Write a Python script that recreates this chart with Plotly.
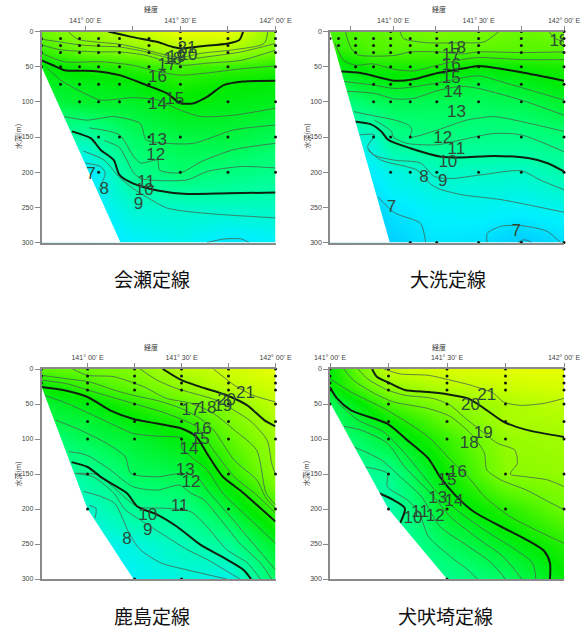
import plotly.graph_objects as go

DEPTHS = [0, 25, 50, 75, 100, 150, 200, 250, 300]
TICK_LON = [140.75, 141.0, 141.25, 141.5, 141.75, 142.0]
TICK_TEXT = ["", "141° 00' E", "", "141° 30' E", "", "142° 00' E"]
DEPTH_TICKS = [0, 50, 100, 150, 200, 250, 300]
PANEL_TITLES = ["会瀬定線", "大洗定線", "鹿島定線", "犬吠埼定線"]

# ---------- panel 1: 会瀬定線 ----------
P1_LON = [140.77, 141.0, 141.25, 141.5, 141.75, 142.0]
P1_TEMP = [
    [18.0, 19.5, 21.0, 22.6, 22.6, 19.0],
    [16.5, 18.2, 19.0, 20.2, 20.3, 18.3],
    [14.7, 15.7, 16.2, 16.8, 16.5, 16.0],
    [14.0, 14.3, 14.7, 15.7, 15.0, 14.8],
    [13.0, 13.9, 13.9, 14.9, 14.5, 14.3],
    [10.0, 10.0, 12.3, 13.1, 13.3, 12.6],
    [6.5, 7.0, 10.9, 12.0, 11.5, 11.0],
    [6.0, 7.0, 8.9, 9.1, 9.2, 9.3],
    [6.0, 6.5, 7.5, 8.0, 7.0, 7.5],
]
P1_SEABED = [(140.77, 50), (141.185, 300), (140.77, 300)]
P1_STATION_LON = [140.77, 140.87, 140.97, 141.07, 141.18, 141.335, 141.50, 141.75, 142.0]
P1_STATION_DEPTHS = [
    [10, 20, 30, 50], [10, 20, 30, 50, 75], [10, 20, 30, 50, 75, 100],
    [10, 20, 30, 50, 75, 100, 150, 200], [10, 20, 30, 50, 75, 100, 150],
    [10, 20, 30, 50, 75, 100, 150], [0, 10, 20, 30, 50, 75, 100, 150, 200],
    [0, 10, 20, 30, 50, 100, 150, 200], [0, 10, 20, 30, 50, 100, 150, 200],
]
P1_T20 = [(141.12, 0), (141.25, 8), (141.38, 15), (141.46, 22), (141.51, 24), (141.61, 21), (141.75, 17), (141.81, 12), (141.83, 0)]
P1_T19 = [(140.91, 0), (140.96, 11), (141.06, 15), (141.18, 18), (141.32, 26), (141.43, 34), (141.50, 37), (141.61, 31), (141.78, 26), (141.94, 17), (141.96, 0)]
P1_T18 = [(140.77, 11), (140.87, 15), (140.97, 19), (141.08, 21), (141.18, 22), (141.32, 29), (141.43, 37), (141.51, 40), (141.64, 36), (141.82, 29), (142, 17)]
P1_T17 = [(140.77, 19), (140.87, 26), (141.08, 29), (141.18, 29), (141.32, 34), (141.43, 43), (141.51, 48), (141.64, 45), (141.82, 41), (142, 26.5)]
P1_T16 = [(140.77, 31), (140.89, 43), (141.08, 43), (141.25, 48), (141.38, 57), (141.50, 62), (141.64, 59), (141.82, 53), (142, 49)]
P1_T15 = [(140.77, 41), (140.83, 48), (140.89, 55), (141.04, 56), (141.18, 62), (141.32, 76), (141.43, 88), (141.50, 102), (141.57, 102), (141.64, 93), (141.73, 76), (141.83, 71), (142, 70)]
P1_T14 = [(140.80, 52), (140.87, 69), (140.96, 83), (141.08, 97.5), (141.25, 94), (141.38, 97.5), (141.50, 112), (141.61, 121), (141.78, 119), (142, 109)]
P1_T13 = [(140.89, 121), (141.01, 126), (141.15, 121), (141.29, 131), (141.32, 154), (141.43, 159), (141.57, 159), (141.78, 140), (142, 133)]
P1_T12 = [(141.02, 137), (141.18, 147), (141.25, 176), (141.29, 187), (141.38, 183), (141.39, 197), (141.50, 201), (141.61, 185), (141.78, 168), (142, 159)]
P1_T11 = [(141.10, 155), (141.18, 165), (141.25, 199), (141.29, 209), (141.535, 211), (141.64, 199), (141.82, 192), (142, 194)]
P1_T10 = [(140.93, 142), (141.03, 152), (141.08, 168), (141.15, 183), (141.18, 204), (141.25, 216), (141.38, 226), (141.535, 231), (141.75, 230), (142, 229)]
P1_T9 = [(140.99, 170), (141.10, 183), (141.175, 206), (141.25, 223), (141.32, 235), (141.43, 251), (141.61, 258), (142, 265)]
P1_T8 = [(141.0, 187), (141.08, 192), (141.105, 201), (141.08, 220), (141.07, 225)]
P1_T7 = [(141.64, 300), (141.73, 295), (141.82, 295), (141.86, 300)]
P1_THIN = [P1_T19, P1_T18, P1_T17, P1_T16, P1_T14, P1_T13, P1_T12, P1_T11, P1_T9, P1_T8, P1_T7]
P1_THICK = [P1_T20, P1_T15, P1_T10]
P1_LABELS = ["21", "20", "19", "18", "17", "16", "15", "14", "13", "12", "11", "10", "9", "8", "7"]
P1_LABEL_LON = [141.535, 141.54, 141.48, 141.46, 141.43, 141.38, 141.47, 141.38, 141.38, 141.37, 141.32, 141.31, 141.28, 141.10, 141.03]
P1_LABEL_DEPTH = [24, 34, 38, 40, 48, 66, 97, 104, 156, 177, 215, 226, 246, 225, 203]

# ---------- panel 2: 大洗定線 ----------
P2_LON = [140.63, 140.88, 141.0, 141.25, 141.5, 141.75, 142.0]
P2_TEMP = [
    [17.0, 17.5, 17.8, 18.5, 18.3, 17.8, 18.2],
    [16.0, 17.2, 17.3, 17.2, 17.5, 17.4, 17.4],
    [14.0, 15.6, 15.6, 15.8, 15.0, 15.4, 15.7],
    [13.0, 14.0, 14.4, 14.0, 13.3, 14.1, 14.9],
    [11.0, 12.5, 12.8, 12.7, 12.6, 12.9, 13.9],
    [8.0, 9.0, 11.0, 11.5, 11.2, 11.2, 11.7],
    [6.0, 7.5, 8.3, 9.2, 9.2, 9.1, 10.0],
    [6.0, 6.7, 7.2, 7.8, 7.9, 7.7, 8.1],
    [6.0, 6.2, 6.5, 7.2, 7.0, 6.3, 6.9],
]
P2_SEABED = [(140.63, 0), (140.98, 300), (140.63, 300)]
P2_STATION_LON = [140.63, 140.68, 140.78, 140.885, 140.985, 141.10, 141.255, 141.50, 141.75, 142.0]
P2_STATION_DEPTHS = [
    [10], [10, 20], [10, 20, 30, 50], [10, 20, 30, 50, 75, 100, 150],
    [0, 10, 20, 30, 50, 75, 100, 150, 200], [10, 20, 30, 50, 75, 100, 150, 200, 300],
    [0, 10, 20, 30, 50, 75, 100, 200, 300], [0, 10, 20, 30, 50, 75, 100, 150, 200, 300],
    [0, 10, 20, 30, 50, 75, 100, 150, 200, 300], [0, 10, 20, 30, 50, 75, 100, 150, 200, 300],
]
P2_T18A = [(141.04, 0), (141.06, 10), (141.20, 16), (141.40, 16), (141.53, 15), (141.62, 0)]
P2_T18B = [(141.91, 0), (141.95, 10), (142, 15)]
P2_T17 = [(140.72, 0), (140.75, 22), (140.79, 33), (141.01, 34), (141.10, 29), (141.26, 29), (141.40, 32), (141.50, 29), (141.75, 30), (142, 29)]
P2_T16 = [(140.66, 17), (140.71, 41), (140.78, 48), (140.88, 46), (141.01, 54), (141.12, 56), (141.26, 48), (141.40, 40), (141.50, 37), (141.75, 40), (142, 40)]
P2_T15 = [(140.69, 57), (140.81, 59), (141.01, 70), (141.12, 68), (141.26, 59), (141.40, 53), (141.50, 49), (141.63, 53), (141.75, 58), (142, 70)]
P2_T14 = [(140.71, 71), (140.88, 76), (141.01, 81), (141.14, 78), (141.26, 73), (141.38, 67), (141.50, 63), (141.67, 74), (141.84, 86), (142, 97.5)]
P2_T13 = [(140.73, 85), (140.89, 88), (141.01, 96), (141.12, 95), (141.26, 84), (141.40, 78), (141.50, 81), (141.75, 97.5), (142, 119)]
P2_T12 = [(140.77, 114), (140.87, 119), (141.01, 126), (141.09, 133), (141.11, 140), (141.10, 150), (141.26, 140), (141.43, 126), (141.59, 121), (141.75, 128), (142, 142)]
P2_T11 = [(140.89, 126), (140.99, 142), (141.0, 150), (141.08, 159), (141.26, 161), (141.40, 154), (141.59, 145), (141.75, 147), (142, 171)]
P2_T10 = [(140.77, 128), (140.87, 132), (140.93, 142), (140.97, 154), (141.10, 166), (141.28, 178), (141.40, 179), (141.59, 177), (141.79, 180), (141.90, 187), (142, 199)]
P2_T9 = [(140.80, 147), (140.89, 147), (140.85, 164), (140.89, 176), (141.01, 183), (141.16, 187), (141.24, 206), (141.34, 209), (141.51, 204), (141.75, 198), (141.86, 211), (142, 225)]
P2_T8 = [(140.85, 168), (140.93, 183), (141.14, 197), (141.20, 213), (141.26, 223), (141.40, 232), (141.63, 239), (142, 257)]
P2_T7A = [(140.91, 235), (141.01, 258), (141.16, 273), (141.19, 300)]
P2_T7B = [(141.55, 300), (141.55, 287), (141.63, 277), (141.75, 276), (141.90, 284), (141.98, 300)]
P2_T6 = [(141.73, 300), (141.77, 296), (141.81, 300)]
P2_THIN = [P2_T18A, P2_T18B, P2_T17, P2_T16, P2_T14, P2_T13, P2_T12, P2_T11, P2_T9, P2_T8, P2_T7A, P2_T7B, P2_T6]
P2_THICK = [P2_T15, P2_T10]
P2_LABELS = ["18", "17", "16", "15", "14", "13", "12", "11", "10", "9", "8", "7", "7", "18"]
P2_LABEL_LON = [141.37, 141.34, 141.34, 141.34, 141.35, 141.37, 141.29, 141.37, 141.32, 141.29, 141.18, 140.99, 141.72, 141.97]
P2_LABEL_DEPTH = [24, 34, 49, 67, 87, 116, 152, 168, 186, 214, 208, 251, 285, 15]

# ---------- panel 3: 鹿島定線 ----------
P3_LON = [140.755, 141.0, 141.25, 141.5, 141.75, 142.0]
P3_TEMP = [
    [17.5, 18.0, 18.8, 20.6, 21.5, 22.5],
    [15.0, 16.5, 17.8, 19.2, 20.7, 21.5],
    [13.5, 14.6, 16.0, 17.5, 19.0, 20.9],
    [12.8, 13.5, 14.7, 15.8, 18.3, 20.1],
    [11.5, 12.8, 13.7, 14.8, 17.5, 19.7],
    [9.5, 10.7, 12.5, 13.0, 16.0, 19.0],
    [8.0, 9.0, 10.8, 11.2, 13.5, 16.8],
    [7.0, 7.8, 8.5, 9.5, 10.7, 14.0],
    [7.0, 7.5, 7.8, 8.5, 8.1, 12.3],
]
P3_SEABED = [(140.755, 25), (141.0, 200), (141.244, 300), (140.755, 300)]
P3_STATION_LON = [140.755, 141.0, 141.25, 141.5, 141.75, 142.0]
P3_STATION_DEPTHS = [
    [0, 10, 20], [0, 10, 20, 30, 50, 75, 100, 150, 200],
    [0, 10, 20, 30, 50, 75, 100, 150, 300], [0, 10, 20, 30, 50, 75, 100, 150, 200, 300],
    [0, 10, 20, 30, 50, 75, 100, 150, 200], [0, 10, 20, 30, 50, 75, 100, 150, 200],
]
P3_T21 = [(141.67, 0), (141.78, 23), (141.88, 37.5), (142, 47)]
P3_T20 = [(141.40, 0), (141.50, 16), (141.60, 25.6), (141.74, 37.5), (141.85, 52), (141.94, 73), (142, 82)]
P3_T19 = [(141.28, 0), (141.37, 16), (141.475, 28), (141.60, 37.5), (141.69, 45), (141.78, 59), (141.87, 75), (141.955, 101.6), (141.98, 135), (142, 151)]
P3_T18 = [(140.92, 0), (141.0, 9), (141.14, 11), (141.30, 25.6), (141.42, 42), (141.55, 49), (141.67, 63.6), (141.78, 87), (141.90, 116), (141.95, 177.5), (142, 194)]
P3_T17 = [(140.755, 9), (140.89, 14), (141.01, 18.5), (141.14, 30), (141.24, 37.5), (141.37, 45), (141.50, 56.5), (141.60, 71), (141.67, 87), (141.78, 130), (141.90, 158.5), (141.95, 184.6), (142, 199)]
P3_T16 = [(140.755, 16), (140.89, 21), (141.0, 30), (141.24, 49), (141.42, 63.6), (141.58, 82.6), (141.67, 116), (141.78, 154), (141.90, 180), (142, 206)]
P3_T15 = [(140.755, 25.6), (140.87, 30), (141.0, 40), (141.12, 59), (141.24, 71), (141.37, 78), (141.50, 85), (141.58, 97), (141.635, 120.5), (141.72, 154), (141.81, 173), (141.90, 194), (142, 218)]
P3_T14 = [(140.77, 37.5), (140.89, 49), (141.01, 63.6), (141.14, 80), (141.24, 92), (141.37, 96), (141.50, 99), (141.50, 113), (141.55, 125), (141.635, 144), (141.72, 177.5), (141.85, 211), (142, 249)]
P3_T13 = [(140.83, 73), (140.96, 87), (141.10, 106), (141.20, 125), (141.23, 149), (141.37, 154), (141.50, 149), (141.58, 154), (141.65, 177.5), (141.76, 211), (141.88, 249), (142, 287)]
P3_T12 = [(140.90, 118), (140.995, 123), (141.12, 144), (141.24, 168), (141.37, 173), (141.49, 166), (141.55, 177.5), (141.62, 187), (141.71, 215.5), (141.81, 249), (141.92, 277), (141.98, 300)]
P3_T11 = [(140.94, 149), (141.05, 151), (141.155, 173), (141.265, 196.5), (141.42, 199), (141.55, 204), (141.635, 225), (141.74, 258), (141.85, 277), (141.92, 300)]
P3_T10 = [(140.915, 133), (141.0, 140), (141.08, 156), (141.21, 177.5), (141.265, 196.5), (141.37, 208), (141.475, 225), (141.60, 251), (141.74, 272), (141.83, 287), (141.87, 300)]
P3_T9 = [(140.93, 149), (141.03, 154), (141.14, 177.5), (141.20, 201), (141.28, 215.5), (141.39, 234.5), (141.53, 258), (141.635, 272), (141.81, 300)]
P3_T8 = [(140.98, 175), (141.07, 182), (141.145, 192), (141.19, 215.5), (141.22, 234.5), (141.28, 258), (141.39, 277), (141.53, 287), (141.74, 300)]
P3_T7 = [(141.01, 195), (141.045, 199), (141.04, 213)]
P3_THIN = [P3_T21, P3_T19, P3_T18, P3_T17, P3_T16, P3_T14, P3_T13, P3_T12, P3_T11, P3_T9, P3_T8, P3_T7]
P3_THICK = [P3_T20, P3_T15, P3_T10]
P3_LABELS = ["21", "20", "19", "18", "17", "16", "15", "14", "13", "12", "11", "10", "9", "8"]
P3_LABEL_LON = [141.84, 141.74, 141.72, 141.635, 141.55, 141.61, 141.60, 141.54, 141.52, 141.55, 141.49, 141.32, 141.32, 141.21]
P3_LABEL_DEPTH = [35, 45, 54, 56.5, 59, 87, 101.6, 115, 146, 163, 196.5, 210, 231, 244]

# ---------- panel 4: 犬吠埼定線 ----------
P4_LON = [141.0, 141.25, 141.5, 141.75, 142.0]
P4_TEMP = [
    [15.0, 21.2, 22.0, 22.3, 22.5],
    [14.8, 19.2, 20.5, 21.3, 21.8],
    [12.5, 17.0, 19.0, 20.1, 20.8],
    [12.0, 15.0, 17.7, 20.0, 20.2],
    [11.0, 13.7, 16.5, 19.4, 19.8],
    [10.0, 11.0, 15.3, 18.9, 19.3],
    [9.0, 10.0, 14.1, 16.0, 18.0],
    [9.0, 10.0, 12.5, 14.2, 16.0],
    [9.0, 10.0, 11.0, 12.3, 14.8],
]
P4_SEABED = [(141.0, 48), (141.25, 200), (141.5, 300), (141.0, 300)]
P4_STATION_LON = [141.0, 141.25, 141.5, 141.75, 142.0]
P4_STATION_DEPTHS = [
    [0, 10, 20, 30, 50], [0, 10, 20, 30, 50, 75, 100, 150, 200],
    [0, 10, 20, 30, 50, 75, 100, 150, 200, 300], [0, 10, 20, 30, 50, 75, 100, 150, 200],
    [0, 10, 20, 30, 50, 75, 100, 150, 200],
]
P4_T21 = [(141.23, 0), (141.30, 7), (141.42, 9), (141.515, 16), (141.60, 23), (141.70, 35), (141.74, 47), (141.815, 52), (141.915, 49), (142, 42)]
P4_T20 = [(141.18, 0), (141.20, 11), (141.26, 21), (141.32, 30), (141.42, 33), (141.50, 36), (141.59, 42), (141.66, 56.5), (141.74, 75), (141.84, 87), (142, 97)]
P4_T19 = [(141.12, 0), (141.16, 14), (141.245, 30), (141.32, 37.5), (141.44, 42), (141.515, 52), (141.57, 68), (141.66, 92), (141.715, 106), (141.79, 116), (141.80, 135), (141.77, 150), (141.84, 154), (141.93, 158.5), (142, 168)]
P4_T18 = [(141.06, 0), (141.10, 16), (141.19, 35), (141.27, 47), (141.42, 56.5), (141.515, 68), (141.615, 97), (141.66, 120.5), (141.67, 144), (141.73, 158.5), (141.84, 173), (141.93, 189), (142, 201)]
P4_T16 = [(141.0, 14), (141.09, 33), (141.245, 59), (141.42, 97), (141.53, 135), (141.59, 154), (141.66, 182), (141.77, 211), (142, 249)]
P4_T15 = [(141.0, 26), (141.03, 42), (141.09, 59), (141.245, 78), (141.33, 101.6), (141.42, 127.7), (141.47, 154), (141.54, 182), (141.615, 204), (141.73, 225), (141.84, 244), (141.915, 260), (141.94, 277), (141.94, 300)]
P4_T14 = [(141.03, 47), (141.12, 73), (141.23, 90), (141.32, 120.5), (141.39, 149), (141.46, 177.5), (141.54, 201), (141.66, 230), (141.77, 253), (141.865, 277), (141.88, 300)]
P4_T13 = [(141.06, 82), (141.13, 87), (141.245, 106), (141.32, 140), (141.43, 177.5), (141.515, 211), (141.64, 244), (141.74, 268), (141.82, 300)]
P4_T12 = [(141.10, 111), (141.22, 130), (141.30, 154), (141.39, 182), (141.47, 225), (141.59, 253), (141.69, 277), (141.75, 300)]
P4_T11 = [(141.15, 140), (141.245, 149), (141.245, 168), (141.33, 187), (141.38, 204), (141.42, 239), (141.515, 268), (141.59, 287), (141.63, 300)]
P4_T10 = [(141.21, 177.5), (141.27, 187), (141.32, 199), (141.30, 220)]
P4_THIN = [P4_T21, P4_T19, P4_T18, P4_T16, P4_T14, P4_T13, P4_T12, P4_T11]
P4_THICK = [P4_T20, P4_T15, P4_T10]
P4_LABELS = ["21", "20", "19", "18", "16", "15", "14", "13", "12", "11", "10"]
P4_LABEL_LON = [141.67, 141.60, 141.655, 141.595, 141.545, 141.50, 141.53, 141.46, 141.45, 141.385, 141.355]
P4_LABEL_DEPTH = [37.5, 52, 93, 107, 148, 159.5, 190, 186, 211, 205, 214]

PANELS = [
    dict(lon=P1_LON, temp=P1_TEMP, bed=P1_SEABED, slon=P1_STATION_LON, sdep=P1_STATION_DEPTHS, thin=P1_THIN, thick=P1_THICK,
         lt=P1_LABELS, ll=P1_LABEL_LON, ld=P1_LABEL_DEPTH, box=(41.5, 275.5, 31.5, 242.5), tx=152, ty=278, ax=151),
    dict(lon=P2_LON, temp=P2_TEMP, bed=P2_SEABED, slon=P2_STATION_LON, sdep=P2_STATION_DEPTHS, thin=P2_THIN, thick=P2_THICK,
         lt=P2_LABELS, ll=P2_LABEL_LON, ld=P2_LABEL_DEPTH, box=(330, 564, 31.5, 242.5), tx=448, ty=279, ax=439),
    dict(lon=P3_LON, temp=P3_TEMP, bed=P3_SEABED, slon=P3_STATION_LON, sdep=P3_STATION_DEPTHS, thin=P3_THIN, thick=P3_THICK,
         lt=P3_LABELS, ll=P3_LABEL_LON, ld=P3_LABEL_DEPTH, box=(41.5, 275.5, 369, 579), tx=152, ty=615, ax=151),
    dict(lon=P4_LON, temp=P4_TEMP, bed=P4_SEABED, slon=P4_STATION_LON, sdep=P4_STATION_DEPTHS, thin=P4_THIN, thick=P4_THICK,
         lt=P4_LABELS, ll=P4_LABEL_LON, ld=P4_LABEL_DEPTH, box=(330, 564, 369, 579), tx=445, ty=615, ax=439),
]

W, H = 588, 629
COLORSCALE = [
    [0.0, "rgb(0,160,255)"], [0.139, "rgb(0,240,255)"], [0.278, "rgb(0,255,170)"],
    [0.389, "rgb(0,255,110)"], [0.556, "rgb(0,235,0)"], [0.722, "rgb(110,250,0)"],
    [0.889, "rgb(195,255,0)"], [1.0, "rgb(245,255,0)"],
]
AXIS_GREY = "#8a8a8a"
TICK_FONT = dict(family="Liberation Sans", size=7, color="#444444")

fig = go.Figure()
annotations = []

for i, p in enumerate(PANELS):
    n = "" if i == 0 else str(i + 1)
    xa, ya = "x" + n, "y" + n
    x0, x1, y0, y1 = p["box"]
    left = p["lon"][0]
    fig.add_trace(go.Heatmap(x=p["lon"], y=DEPTHS, z=p["temp"], zmin=5, zmax=23, zsmooth="best",
                             colorscale=COLORSCALE, showscale=False, hoverinfo="skip", xaxis=xa, yaxis=ya))
    for line in p["thin"]:
        fig.add_trace(go.Scatter(x=[a for a, _ in line], y=[b for _, b in line], mode="lines",
                                 line=dict(color="#466450", width=0.8, shape="spline", smoothing=0.7),
                                 hoverinfo="skip", showlegend=False, xaxis=xa, yaxis=ya))
    for line in p["thick"]:
        fig.add_trace(go.Scatter(x=[a for a, _ in line], y=[b for _, b in line], mode="lines",
                                 line=dict(color="#10200f", width=2, shape="spline", smoothing=0.7),
                                 hoverinfo="skip", showlegend=False, xaxis=xa, yaxis=ya))
    fig.add_trace(go.Scatter(x=[a for a, _ in p["bed"]], y=[b for _, b in p["bed"]], mode="lines",
                             fill="toself", fillcolor="white", line=dict(color="white", width=0),
                             hoverinfo="skip", showlegend=False, xaxis=xa, yaxis=ya))
    sx, sy = [], []
    for lon, deps in zip(p["slon"], p["sdep"]):
        for d in deps:
            sx.append(lon)
            sy.append(d)
    fig.add_trace(go.Scatter(x=sx, y=sy, mode="markers", marker=dict(color="#101a10", size=3),
                             cliponaxis=False, hoverinfo="skip", showlegend=False, xaxis=xa, yaxis=ya))
    fig.add_trace(go.Scatter(x=p["ll"], y=p["ld"], text=p["lt"], mode="text",
                             textfont=dict(family="Liberation Sans", size=17, color="#2e4a38"),
                             hoverinfo="skip", showlegend=False, xaxis=xa, yaxis=ya))

    tv = [(v, t) for v, t in zip(TICK_LON, TICK_TEXT) if v >= left]
    fig.layout["xaxis" + n] = dict(
        domain=[x0 / W, x1 / W], range=[left, 142.0], side="top", anchor=ya, automargin=False,
        tickvals=[v for v, _ in tv], ticktext=[t for _, t in tv], tickangle=0, ticks="outside", ticklen=4, tickcolor=AXIS_GREY, tickwidth=1,
        tickfont=TICK_FONT, showgrid=False, zeroline=False, showline=True, linecolor=AXIS_GREY, linewidth=1.5,
        mirror=True, layer="above traces", fixedrange=True)
    fig.layout["yaxis" + n] = dict(
        domain=[1 - y1 / H, 1 - y0 / H], range=[300, 0], anchor=xa, automargin=False,
        tickvals=DEPTH_TICKS, ticks="outside", ticklen=5, tickcolor=AXIS_GREY, tickwidth=1,
        tickfont=TICK_FONT, showgrid=False, zeroline=False, showline=True, linecolor=AXIS_GREY, linewidth=1.5,
        layer="above traces", fixedrange=True)

    annotations.append(dict(text=PANEL_TITLES[i], xref="paper", yref="paper", x=p["tx"] / W, y=1 - p["ty"] / H,
                            showarrow=False, xanchor="center", yanchor="middle",
                            font=dict(family="Noto Sans CJK JP", size=19, color="#111111")))
    annotations.append(dict(text="経度", xref="paper", yref="paper", x=p["ax"] / W, y=1 - (y0 - 22) / H,
                            showarrow=False, xanchor="center", yanchor="middle",
                            font=dict(family="Noto Sans CJK JP", size=7, color="#333333")))
    annotations.append(dict(text="水深(m)", xref="paper", yref="paper", x=(x0 - 24) / W, y=1 - (y0 + 105) / H,
                            showarrow=False, xanchor="center", yanchor="middle", textangle=-90,
                            font=dict(family="Noto Sans CJK JP", size=7, color="#333333")))

fig.update_layout(width=W, height=H, margin=dict(l=0, r=0, t=0, b=0), autosize=False,
                  paper_bgcolor="white", plot_bgcolor="white", showlegend=False, annotations=annotations)

fig.write_html("out.html", config=dict(displayModeBar=False),
               post_script="document.body.style.margin='0';document.body.style.overflow='hidden';")
